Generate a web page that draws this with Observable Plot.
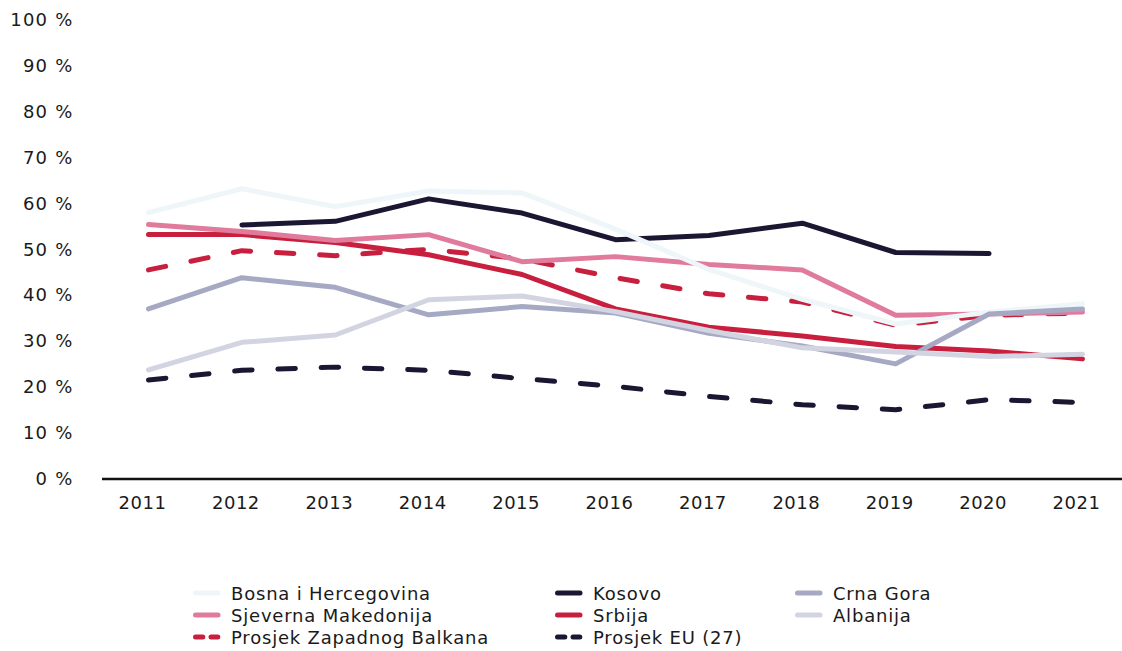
<!DOCTYPE html>
<html>
<head>
<meta charset="utf-8">
<script src="https://cdn.jsdelivr.net/npm/d3@7"></script>
<script src="https://cdn.jsdelivr.net/npm/@observablehq/plot@0.6"></script>
<style>
  html, body { margin: 0; padding: 0; background: #fff; }
  body { width: 1122px; height: 651px; overflow: hidden; font-family: "DejaVu Sans", sans-serif; color: #1a1a1a; }
  #legend { display: grid; grid-template-columns: 362px 240px auto; grid-auto-rows: 22px; padding-left: 193px; margin-top: 52px; font-size: 18px; letter-spacing: 0.8px; }
  .item { display: flex; align-items: center; white-space: nowrap; }
  .item svg { margin-right: 10px; flex: none; }
  .yax text { letter-spacing: 1.2px; }
  .xax text { letter-spacing: 0.5px; }
</style>
</head>
<body>
<div id="chart"></div>
<div id="legend"></div>
<script>
const years = [2011, 2012, 2013, 2014, 2015, 2016, 2017, 2018, 2019, 2020, 2021];
const yTicks = [0, 10, 20, 30, 40, 50, 60, 70, 80, 90, 100];

const bosna      = [58.1, 63.3, 59.4, 62.8, 62.4, 54.5, 45.7, 39.2, 33.8, 36.4, 38.2];
const kosovo     = [null, 55.4, 56.2, 61.1, 58.0, 52.2, 53.1, 55.8, 49.4, 49.2, null];
const crnaGora   = [37.1, 43.9, 41.8, 35.8, 37.6, 36.2, 31.8, 29.0, 25.1, 36.0, 37.1];
const makedonija = [55.5, 54.0, 52.0, 53.3, 47.4, 48.5, 46.8, 45.6, 35.7, 36.0, 36.4];
const srbija     = [53.3, 53.3, 51.6, 48.9, 44.6, 37.1, 33.1, 31.2, 28.9, 27.9, 26.2];
const albanija   = [23.8, 29.8, 31.4, 39.1, 39.9, 36.5, 32.4, 28.6, 27.7, 26.7, 27.2];
const prosjekZB  = [45.6, 49.8, 48.7, 50.1, 48.0, 43.9, 40.4, 38.6, 33.5, 35.7, 36.2];
const prosjekEU  = [21.6, 23.7, 24.4, 23.7, 21.9, 20.2, 18.0, 16.2, 15.1, 17.3, 16.7];

const series = [
  {name: "Bosna i Hercegovina", values: bosna, color: "#eef6f9", dashed: false},
  {name: "Kosovo", values: kosovo, color: "#1b1631", dashed: false},
  {name: "Crna Gora", values: crnaGora, color: "#a6a9c3", dashed: false},
  {name: "Sjeverna Makedonija", values: makedonija, color: "#e07b9b", dashed: false},
  {name: "Srbija", values: srbija, color: "#c81f3e", dashed: false},
  {name: "Albanija", values: albanija, color: "#d3d4e2", dashed: false},
  {name: "Prosjek Zapadnog Balkana", values: prosjekZB, color: "#c81f3e", dashed: true},
  {name: "Prosjek EU (27)", values: prosjekEU, color: "#1b1631", dashed: true}
];

// drawing order (bottom -> top)
const drawOrder = ["Prosjek EU (27)", "Prosjek Zapadnog Balkana", "Srbija", "Kosovo",
  "Sjeverna Makedonija", "Bosna i Hercegovina", "Crna Gora", "Albanija"];

const rows = s => years.map((year, i) => ({year, value: s.values[i]})).filter(d => d.value != null);

const lineMarks = drawOrder.map(n => {
  const s = series.find(d => d.name === n);
  return Plot.line(rows(s), {
    x: "year", y: "value",
    stroke: s.color, strokeWidth: 5,
    strokeLinecap: "round", strokeLinejoin: "round",
    strokeDasharray: s.dashed ? "17.5,25.8" : null
  });
});

const chart = Plot.plot({
  width: 1122,
  height: 530,
  marginLeft: 102,
  marginRight: 0,
  marginTop: 20,
  marginBottom: 51.5,
  style: {fontFamily: "DejaVu Sans, sans-serif", fontSize: "18px", color: "#1a1a1a", background: "#fff"},
  x: {domain: [2011, 2021], insetLeft: 46, insetRight: 40},
  y: {domain: [0, 100]},
  marks: [
    Plot.axisY({ticks: yTicks, tickSize: 0, tickPadding: 29, tickFormat: d => `${d} %`, label: null, fill: "#1a1a1a", className: "yax"}),
    Plot.axisX({ticks: years, tickSize: 0, tickPadding: 17, dx: -6, tickFormat: d => String(d), label: null, fill: "#1a1a1a", className: "xax"}),
    ...lineMarks,
    Plot.ruleY([0], {stroke: "#111", strokeWidth: 2.5})
  ]
});
document.getElementById("chart").appendChild(chart);

// legend (row order as in reference)
const legendOrder = ["Bosna i Hercegovina", "Kosovo", "Crna Gora",
  "Sjeverna Makedonija", "Srbija", "Albanija",
  "Prosjek Zapadnog Balkana", "Prosjek EU (27)"];
const legend = document.getElementById("legend");
legendOrder.forEach(n => {
  const s = series.find(d => d.name === n);
  const item = document.createElement("div");
  item.className = "item";
  const swatch = s.dashed
    ? `<svg width="28" height="8"><line x1="2.5" y1="4" x2="9.8" y2="4" stroke="${s.color}" stroke-width="5" stroke-linecap="round"/><line x1="18" y1="4" x2="24.8" y2="4" stroke="${s.color}" stroke-width="5" stroke-linecap="round"/></svg>`
    : `<svg width="28" height="8"><line x1="2.5" y1="4" x2="25" y2="4" stroke="${s.color}" stroke-width="5" stroke-linecap="round"/></svg>`;
  item.innerHTML = swatch + `<span>${s.name}</span>`;
  legend.appendChild(item);
});
</script>
</body>
</html>
